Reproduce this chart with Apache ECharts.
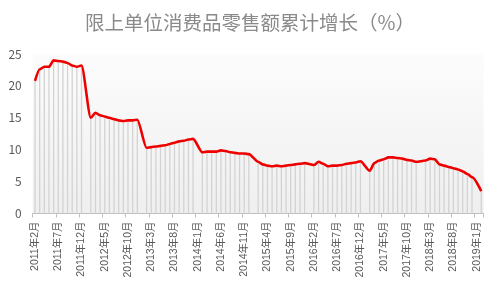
<!DOCTYPE html>
<html>
<head>
<meta charset="utf-8">
<script src="https://cdn.jsdelivr.net/npm/echarts@6/dist/echarts.min.js"></script>
<style>
html,body{margin:0;padding:0;background:#fff;}
#c{width:500px;height:301px;}
</style>
</head>
<body>
<div id="c"></div>
<script>
// Monthly categories 2011-02 .. 2019-02
var categories = [];
(function(){
  var y = 2011, m = 2;
  while (y < 2019 || (y === 2019 && m <= 2)) {
    categories.push(y + '年' + m + '月');
    m++; if (m > 12) { m = 1; y++; }
  }
})();

// Cumulative growth (%), January not published (null)
var growth2011 = [20.8, 22.6, 23.0, 23.0, 24.0, 23.9, 23.8, 23.6, 23.2, 23.0, 23.2];
var growth2012 = [null, 15.0, 15.8, 15.4, 15.2, 15.0, 14.8, 14.6, 14.5, 14.6, 14.6, 14.7];
var growth2013 = [null, 10.3, 10.4, 10.5, 10.6, 10.7, 10.9, 11.1, 11.3, 11.4, 11.6, 11.7];
var growth2014 = [null, 9.6, 9.7, 9.7, 9.7, 9.9, 9.8, 9.6, 9.5, 9.4, 9.4, 9.3];
var growth2015 = [null, 8.1, 7.7, 7.5, 7.4, 7.5, 7.4, 7.5, 7.6, 7.7, 7.8, 7.9];
var growth2016 = [null, 7.6, 8.1, 7.8, 7.4, 7.5, 7.5, 7.6, 7.8, 7.9, 8.0, 8.2];
var growth2017 = [null, 6.7, 7.9, 8.3, 8.5, 8.8, 8.8, 8.7, 8.6, 8.4, 8.3, 8.1];
var growth2018 = [null, 8.3, 8.6, 8.5, 7.7, 7.5, 7.3, 7.1, 6.9, 6.6, 6.2, 5.7];
var growth2019 = [null, 3.5];

var values = [].concat(growth2011, growth2012, growth2013, growth2014, growth2015,
                       growth2016, growth2017, growth2018, growth2019);

var yTicks = [0, 5, 10, 15, 20, 25];
var titleText = '限上单位消费品零售额累计增长（%）';

var chart = echarts.init(document.getElementById('c'), null, {renderer: 'canvas'});
chart.setOption({
  backgroundColor: '#ffffff',
  animation: false,
  title: {
    text: titleText,
    left: 'center',
    top: 8,
    textStyle: {
      fontFamily: 'Noto Sans CJK SC',
      fontSize: 19.5,
      fontWeight: 'normal',
      color: '#8a8a8a'
    }
  },
  grid: {
    left: 32.7,
    right: 16.4,
    top: 54,
    bottom: 87.5,
    show: true,
    borderWidth: 0,
    backgroundColor: {
      type: 'linear', x: 0, y: 0, x2: 0, y2: 1,
      colorStops: [{offset: 0, color: '#fcfcfc'}, {offset: 1, color: '#efefef'}]
    }
  },
  xAxis: {
    type: 'category',
    data: categories,
    boundaryGap: true,
    axisLine: {show: true, lineStyle: {color: '#bfbfbf', width: 1}},
    axisTick: {show: true, interval: 4, length: 4, lineStyle: {color: '#bfbfbf'}},
    axisLabel: {
      interval: 4,
      rotate: 90,
      margin: 8,
      fontFamily: 'Liberation Sans, Noto Sans CJK SC',
      fontSize: 10.5,
      color: '#595959'
    },
    splitLine: {show: false}
  },
  yAxis: {
    type: 'value',
    min: yTicks[0],
    max: yTicks[yTicks.length - 1],
    interval: 5,
    axisLine: {show: false},
    axisTick: {show: false},
    splitLine: {show: false},
    axisLabel: {
      margin: 11,
      fontFamily: 'Noto Sans CJK SC',
      fontSize: 12,
      color: '#595959'
    }
  },
  series: [
    {
      type: 'bar',
      data: values,
      barWidth: 1.3,
      itemStyle: {color: '#d3d3d3'},
      silent: true,
      z: 1
    },
    {
      type: 'line',
      data: values,
      connectNulls: true,
      smooth: 0.25,
      smoothMonotone: 'x',
      symbol: 'none',
      lineStyle: {color: '#ee0000', width: 2.6},
      z: 3
    }
  ]
});
</script>
</body>
</html>
